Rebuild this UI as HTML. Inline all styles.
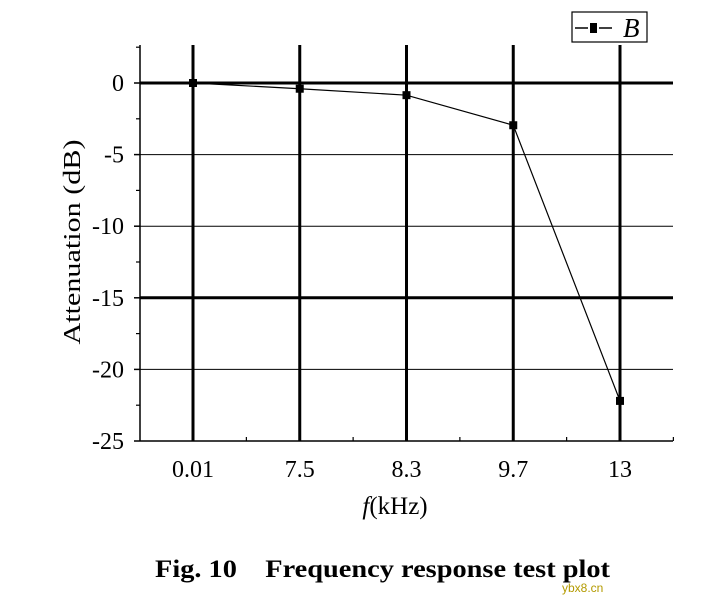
<!DOCTYPE html>
<html><head><meta charset="utf-8"><style>
html,body{margin:0;padding:0;background:#fff;}
svg{display:block;font-family:"Liberation Serif",serif;}
</style></head><body>
<svg id="chart" width="706" height="612" viewBox="0 0 706 612">
<g id="grid"></g>
<g id="axes"></g>
<g id="series"></g>
<g>
<rect x="572" y="12" width="75" height="30" fill="#fff" stroke="#000" stroke-width="1.2"/>
<line x1="575" y1="28" x2="588" y2="28" stroke="#000" stroke-width="1.5"/>
<line x1="599" y1="28" x2="612" y2="28" stroke="#000" stroke-width="1.5"/>
<rect x="590" y="23" width="7" height="10" fill="#000"/>
<text x="623" y="37" font-size="27" font-style="italic">B</text>
</g>
<text transform="translate(80,242) rotate(-90)" text-anchor="middle" font-size="24" textLength="205" lengthAdjust="spacingAndGlyphs">Attenuation (dB)</text>
<text x="395" y="514" text-anchor="middle" font-size="25"><tspan font-style="italic">f</tspan>(kHz)</text>
<text x="155" y="577" font-size="25" font-weight="bold" textLength="455" lengthAdjust="spacingAndGlyphs">Fig. 10&#160;&#160;&#160;&#160;Frequency response test plot</text>
<text x="562" y="592" font-size="12" fill="#b39a00" font-family="Liberation Sans, sans-serif">ybx8.cn</text>
</svg>
<script>
const categories = ["0.01","7.5","8.3","9.7","13"];
const values = [0, -0.4, -0.85, -2.95, -22.2];
const yTicks = [0, -5, -10, -15, -20, -25];
const thickY = [0, -15];

const NS = "http://www.w3.org/2000/svg";
const L = 140, R = 673, T = 45, B = 441;
const step = 106.75;
function xPos(i){ return 193 + i*step; }
function yPos(v){ return 83 - v*(358/25); }
function mk(parent, tag, attrs){
  const e = document.createElementNS(NS, tag);
  for (const k in attrs) e.setAttribute(k, attrs[k]);
  document.getElementById(parent).appendChild(e);
  return e;
}
yTicks.forEach(v=>{
  if (v === -25) return;
  const thick = thickY.includes(v);
  const l = mk("grid","line",{x1:L,x2:R,y1:yPos(v),y2:yPos(v),stroke:"#000","stroke-width":thick?3:1});
  
  
});
categories.forEach((c,i)=>{
  const l = mk("grid","line",{x1:xPos(i),x2:xPos(i),y1:T,y2:B,stroke:"#000","stroke-width":3});
  
  
});
let a = mk("axes","line",{x1:L,x2:L,y1:T,y2:B,stroke:"#000","stroke-width":1.5});


a = mk("axes","line",{x1:L,x2:R,y1:B,y2:B,stroke:"#000","stroke-width":1.5});


yTicks.forEach(v=>{
  const t = mk("axes","line",{x1:L-6,x2:L,y1:yPos(v),y2:yPos(v),stroke:"#000","stroke-width":1.5});
  
  
  const m = mk("axes","line",{x1:L-4,x2:L,y1:yPos(v+2.5),y2:yPos(v+2.5),stroke:"#000","stroke-width":1.2});
  
  
  const tx = mk("axes","text",{x:L-16,y:yPos(v)+8,"text-anchor":"end","font-size":24});
  tx.textContent = v;
  
  
});
categories.forEach((c,i)=>{
  const tx = mk("axes","text",{x:xPos(i),y:477,"text-anchor":"middle","font-size":24});
  tx.textContent = c;
  
  
  const m = mk("axes","line",{x1:xPos(i)+step/2,x2:xPos(i)+step/2,y1:B-4,y2:B,stroke:"#000","stroke-width":1.2});
  
  
});
const pts = values.map((v,i)=>xPos(i)+","+yPos(v)).join(" ");
const pl = mk("series","polyline",{points:pts,fill:"none",stroke:"#000","stroke-width":1.2});


values.forEach((v,i)=>{
  const r = mk("series","rect",{x:xPos(i)-4,y:yPos(v)-4,width:8,height:8,fill:"#000"});
  
  
});
</script>
</body></html>
